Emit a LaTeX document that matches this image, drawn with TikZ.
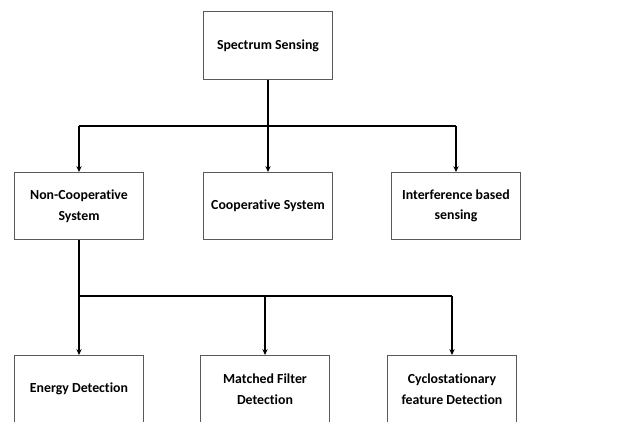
\documentclass[tikz,border=0pt]{standalone}
\usepackage{fontspec}
\setmainfont[Ligatures=NoCommon]{Carlito}
\usetikzlibrary{calc,arrows.meta}

\begin{document}
\begin{tikzpicture}[
    >={Stealth[length=5pt,width=4.5pt]},
    x=0.03cm, y=-0.03cm, % pixel grid of the figure
    box/.style={draw=black!65, line width=0.6pt, fill=white,
        minimum width=3.87cm, minimum height=2.02cm,
        align=center, font=\fontsize{11.8}{17.5}\selectfont\bfseries},
    link/.style={line width=1.5pt}
]
\clip (0,0) rectangle (619,421);
\useasboundingbox (0,0) rectangle (619,421);

% ========== top level ==========
\node[box] (ss) at (268,45.5) {Spectrum Sensing};

% ========== second level ==========
\node[box] (nc) at (79,206) {Non-Cooperative\\System};
\node[box] (cs) at (268,206) {Cooperative System};
\node[box] (ib) at (456,206) {Interference based\\sensing};

% ========== third level ==========
\node[box] (ed) at (79,389) {Energy Detection};
\node[box] (mf) at (265,389) {Matched Filter\\Detection};
\node[box] (cf) at (452,389) {Cyclostationary\\feature Detection};

% first bus
\coordinate (b1) at (268,126);
\draw[link] (ss.south) -- (b1);
\draw[link] (b1 -| nc) -- (b1 -| ib);
\foreach \n in {nc,cs,ib} {
    \draw[link,->] (b1 -| \n) -- (\n.north); % down arrow
}

% second bus
\coordinate (b2) at (79,296);
\draw[line width=2.2pt] (nc.south) -- (b2);
\draw[link] (b2) -- (b2 -| cf);
\foreach \n in {ed,mf,cf} {
    \draw[link,->] (b2 -| \n) -- (\n.north); % down arrow
}

\end{tikzpicture}
\end{document}
